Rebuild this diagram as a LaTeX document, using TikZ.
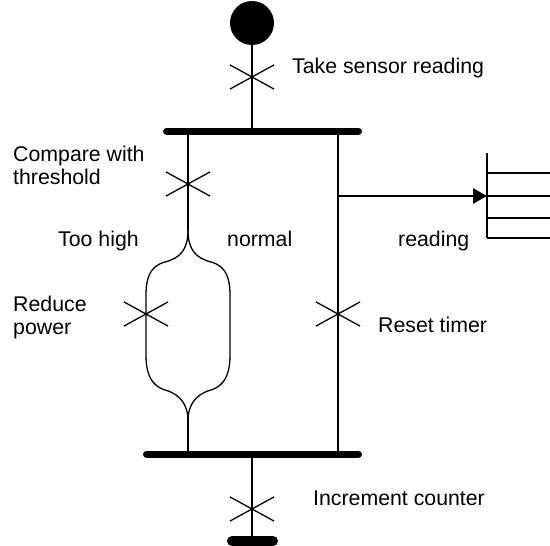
\documentclass[tikz,border=0pt]{standalone}
\usepackage{fontspec}
\setmainfont{Liberation Sans}
\usetikzlibrary{positioning, arrows.meta, shapes.misc}

\begin{document}
\begin{tikzpicture}[
  x=1pt, y=-1pt,
  every node/.style={font=\fontsize{21.3}{23}\selectfont},
  line/.style={line width=1.3pt},
  bar/.style={line width=7pt, line cap=round},
  endbar/.style={line width=10pt, line cap=round},
  startdot/.style={circle, fill, minimum size=44pt, inner sep=0pt},
  act/.style={draw, cross out, line width=1.3pt, minimum width=43pt, minimum height=23pt, inner sep=0pt},
  lbl/.style={inner sep=0pt, align=left},
  arr/.style={-{Triangle[length=14pt, width=15pt]}, line width=2.8pt}
]
  \useasboundingbox (0,0) rectangle (550,546);

  % skeleton
  \node[startdot] (start) at (252,23) {};
  \node[act] (take) at (252,77) {};
  \coordinate (topIn) at (252,131);
  \coordinate (topL) at (166.5,131);
  \coordinate (topR) at (358.5,131);
  \coordinate (leftTop) at (188,131);
  \coordinate (rightTop) at (338,131);
  \node[act] (compare) at (188,184) {};
  \coordinate (split) at (188,230);
  \node[act] (reduce) at (146,314) {};
  \node[act] (reset) at (338,314) {};
  \coordinate (merge) at (188,420);
  \coordinate (botL) at (146.5,454);
  \coordinate (botR) at (358.5,454);
  \coordinate (leftBot) at (188,454);
  \coordinate (rightBot) at (338,454);
  \coordinate (botOut) at (252,454);
  \node[act] (incr) at (252,509) {};
  \coordinate (endL) at (232,541);
  \coordinate (endR) at (273,541);
  \coordinate (tap) at (338,196);
  \coordinate (store) at (487,196);

  % labels
  \node[lbl, anchor=base west] (lblTake) at (292,73) {Take sensor reading};
  \node[lbl, anchor=north west] (lblCompare) at (13,146) {Compare with\\threshold};
  \node[lbl, anchor=base west] (lblHigh) at (58,246) {Too high};
  \node[lbl, anchor=base west] (lblNormal) at (227,246) {normal};
  \node[lbl, anchor=base west] (lblReading) at (398,246) {reading};
  \node[lbl, anchor=north west] (lblReduce) at (13,296) {Reduce\\power};
  \node[lbl, anchor=base west] (lblReset) at (378,332) {Reset timer};
  \node[lbl, anchor=base west] (lblIncr) at (313,505) {Increment counter};

  % bars
  \draw[bar] (topL) -- (topR);
  \draw[bar] (botL) -- (botR);
  \draw[endbar] (endL) -- (endR);

  % flows
  \draw[line] (start) -- (topIn);
  \draw[line] (leftTop) -- (split);
  \draw[line] (rightTop) -- (rightBot);
  \draw[line] (merge) -- (leftBot);
  \draw[line] (botOut) -- (endL -| botOut);
  \draw[line] (split) .. controls (188,250) and (180,258) .. (165,262)
    .. controls (150,266) and (146,278) .. (146,295) -- (146,355)
    .. controls (146,375) and (152,386) .. (165,390)
    .. controls (180,394) and (188,405) .. (merge);
  \draw[line] (split) .. controls (188,250) and (196,258) .. (211,262)
    .. controls (226,266) and (230,278) .. (230,295) -- (230,355)
    .. controls (230,375) and (224,386) .. (211,390)
    .. controls (196,394) and (188,405) .. (merge);

  % data store
  \draw[arr] (tap) -- (store);
  \draw[line] (487,153) -- (487,238);
  \foreach \y in {173,196,218,238}
    \draw[line] (487,\y) -- (552,\y);
\end{tikzpicture}
\end{document}
